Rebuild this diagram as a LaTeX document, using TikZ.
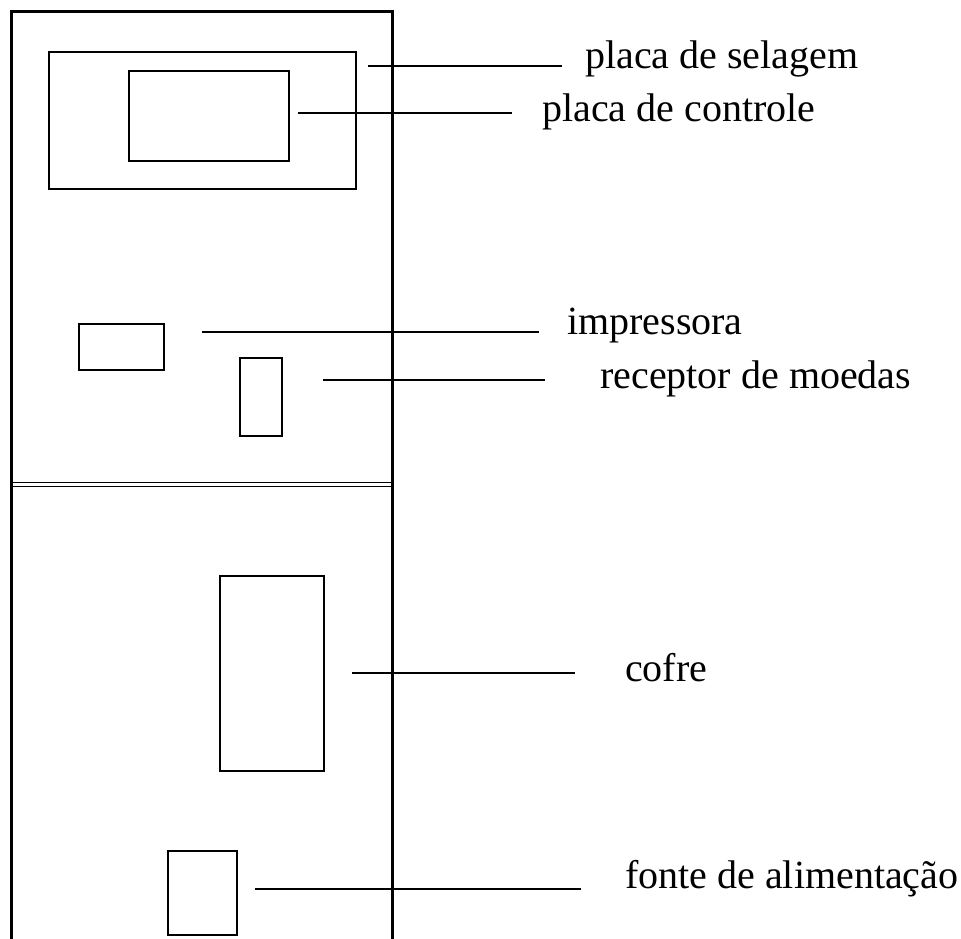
\documentclass[tikz,border=0pt]{standalone}
\usepackage{fontspec}
\setmainfont{Liberation Serif}
\usetikzlibrary{positioning}

\begin{document}
\begin{tikzpicture} [
    x=1pt, y=-1pt,
    part/.style = {draw, rectangle, line width=2.4pt, inner sep=0pt,
        anchor=north west},
    leader/.style = {line width=1.8pt},
    lbl/.style = {anchor=base west, inner sep=0pt,
        font=\fontsize{40}{48}\selectfont}]
    \useasboundingbox (0,0) rectangle (961,939);

    % cabinet
    \draw [line width=3pt] (11,939) -- (11,12) -- (392,12) -- (392,939);
    \draw [line width=1.6pt] (11,482.5) -- (392,482.5);
    \draw [line width=1.6pt] (11,486.5) -- (392,486.5);

    % parts
    \node (selagem) [part, minimum width=307pt, minimum height=137pt] at (48,51) {};
    \node (controle) [part, minimum width=160pt, minimum height=90pt] at (128,70) {};
    \node (impressora) [part, minimum width=85pt, minimum height=46pt] at (78,323) {};
    \node (receptor) [part, minimum width=42pt, minimum height=78pt] at (239,357) {};
    \node (cofre) [part, minimum width=104pt, minimum height=195pt] at (219,575) {};
    \node (fonte) [part, minimum width=69pt, minimum height=84pt] at (167,850) {};

    % labels
    \node (l-selagem) [lbl] at (585,69) {placa de selagem};
    \node (l-controle) [lbl] at (542,122) {placa de controle};
    \node (l-impressora) [lbl] at (567,334) {impressora};
    \node (l-receptor) [lbl] at (600,388) {receptor de moedas};
    \node (l-cofre) [lbl] at (625,681) {cofre};
    \node (l-fonte) [lbl] at (625,888) {fonte de alimentação};

    % leader lines
    \coordinate (s1) at (368,66);  \coordinate (s2) at (562,66);
    \coordinate (c1) at (298,113); \coordinate (c2) at (512,113);
    \coordinate (i1) at (202,332); \coordinate (i2) at (539,332);
    \coordinate (r1) at (323,380); \coordinate (r2) at (545,380);
    \coordinate (k1) at (352,673); \coordinate (k2) at (575,673);
    \coordinate (f1) at (255,889); \coordinate (f2) at (581,889);

    \path [leader]
        (s1) edge (s2)
        (c1) edge (c2)
        (i1) edge (i2)
        (r1) edge (r2)
        (k1) edge (k2)
        (f1) edge (f2);
\end{tikzpicture}
\end{document}
